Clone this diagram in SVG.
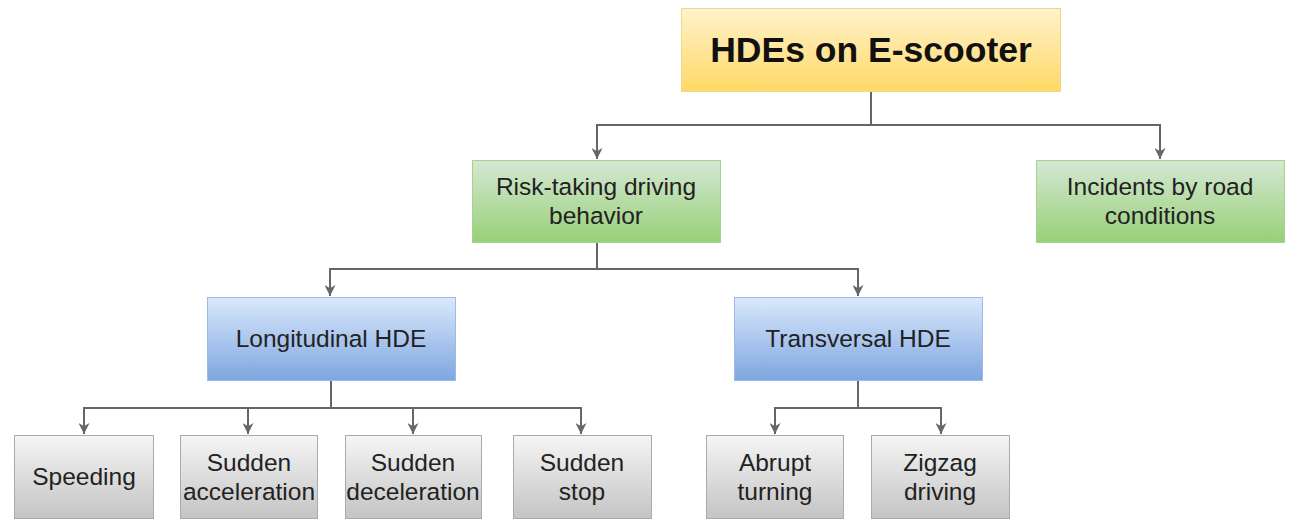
<svg xmlns="http://www.w3.org/2000/svg" width="1299" height="528" viewBox="0 0 1299 528">
<defs>
<linearGradient id="gy" x1="0" y1="0" x2="0" y2="1"><stop offset="0" stop-color="#fff2cc"/><stop offset="1" stop-color="#ffd966"/></linearGradient>
<linearGradient id="gg" x1="0" y1="0" x2="0" y2="1"><stop offset="0" stop-color="#d5e8d4"/><stop offset="1" stop-color="#97d077"/></linearGradient>
<linearGradient id="gb" x1="0" y1="0" x2="0" y2="1"><stop offset="0" stop-color="#dae8fc"/><stop offset="1" stop-color="#7ea6e0"/></linearGradient>
<linearGradient id="gr" x1="0" y1="0" x2="0" y2="1"><stop offset="0" stop-color="#f5f5f5"/><stop offset="1" stop-color="#c4c4c4"/></linearGradient>
<marker id="ah" viewBox="0 0 10 10" refX="10" refY="5" markerWidth="11" markerHeight="11" markerUnits="userSpaceOnUse" orient="auto">
<path d="M0,0 L10,5 L0,10 L3,5 Z" fill="#666"/>
</marker>
</defs>
<style>
.y{fill:url(#gy);stroke:#f0d68a;stroke-width:1}
.g{fill:url(#gg);stroke:#a9d18e;stroke-width:1}
.b{fill:url(#gb);stroke:#9dbbe6;stroke-width:1}
.r{fill:url(#gr);stroke:#aaaaaa;stroke-width:1}
text{font-family:"Liberation Sans",Arial,sans-serif;font-size:24.5px;fill:#222;text-anchor:middle}
.t{font-size:35.5px;font-weight:bold;fill:#111}
.c{fill:none;stroke:#666;stroke-width:2}
</style>
<g id="connectors">
<path class="c" d="M871,91 V125 H597 V159" marker-end="url(#ah)"/>
<path class="c" d="M871,125 H1160 V159" marker-end="url(#ah)"/>
<path class="c" d="M597,242 V269 H330 V296" marker-end="url(#ah)"/>
<path class="c" d="M597,269 H858 V296" marker-end="url(#ah)"/>
<path class="c" d="M331,380 V408 H84 V434" marker-end="url(#ah)"/>
<path class="c" d="M248,408 V434" marker-end="url(#ah)"/>
<path class="c" d="M331,408 H413 V434" marker-end="url(#ah)"/>
<path class="c" d="M413,408 H581 V434" marker-end="url(#ah)"/>
<path class="c" d="M858,380 V408 H775 V434" marker-end="url(#ah)"/>
<path class="c" d="M858,408 H941 V434" marker-end="url(#ah)"/>
</g>
<g id="root"><rect class="y" x="681.500" y="8.500" width="379" height="83"/><text class="t" x="871" y="62">HDEs on E-scooter</text></g>
<g id="risk"><rect class="g" x="472.500" y="160.500" width="248" height="82"/><text x="596" y="195">Risk-taking driving</text><text x="596" y="224">behavior</text></g>
<g id="incidents"><rect class="g" x="1036.500" y="160.500" width="248" height="82"/><text x="1160" y="195">Incidents by road</text><text x="1160" y="224">conditions</text></g>
<g id="longitudinal"><rect class="b" x="207.500" y="297.500" width="248" height="83"/><text x="331" y="347">Longitudinal HDE</text></g>
<g id="transversal"><rect class="b" x="734.500" y="297.500" width="248" height="83"/><text x="858" y="347">Transversal HDE</text></g>
<g id="speeding"><rect class="r" x="14.500" y="435.500" width="139" height="83"/><text x="84" y="485">Speeding</text></g>
<g id="accel"><rect class="r" x="180.500" y="435.500" width="137" height="83"/><text x="249" y="471">Sudden</text><text x="249" y="500">acceleration</text></g>
<g id="decel"><rect class="r" x="345.500" y="435.500" width="136" height="83"/><text x="413" y="471">Sudden</text><text x="413" y="500">deceleration</text></g>
<g id="stop"><rect class="r" x="513.500" y="435.500" width="138" height="83"/><text x="582" y="471">Sudden</text><text x="582" y="500">stop</text></g>
<g id="abrupt"><rect class="r" x="706.500" y="435.500" width="137" height="83"/><text x="775" y="471">Abrupt</text><text x="775" y="500">turning</text></g>
<g id="zigzag"><rect class="r" x="871.500" y="435.500" width="138" height="83"/><text x="940" y="471">Zigzag</text><text x="940" y="500">driving</text></g>
</svg>
